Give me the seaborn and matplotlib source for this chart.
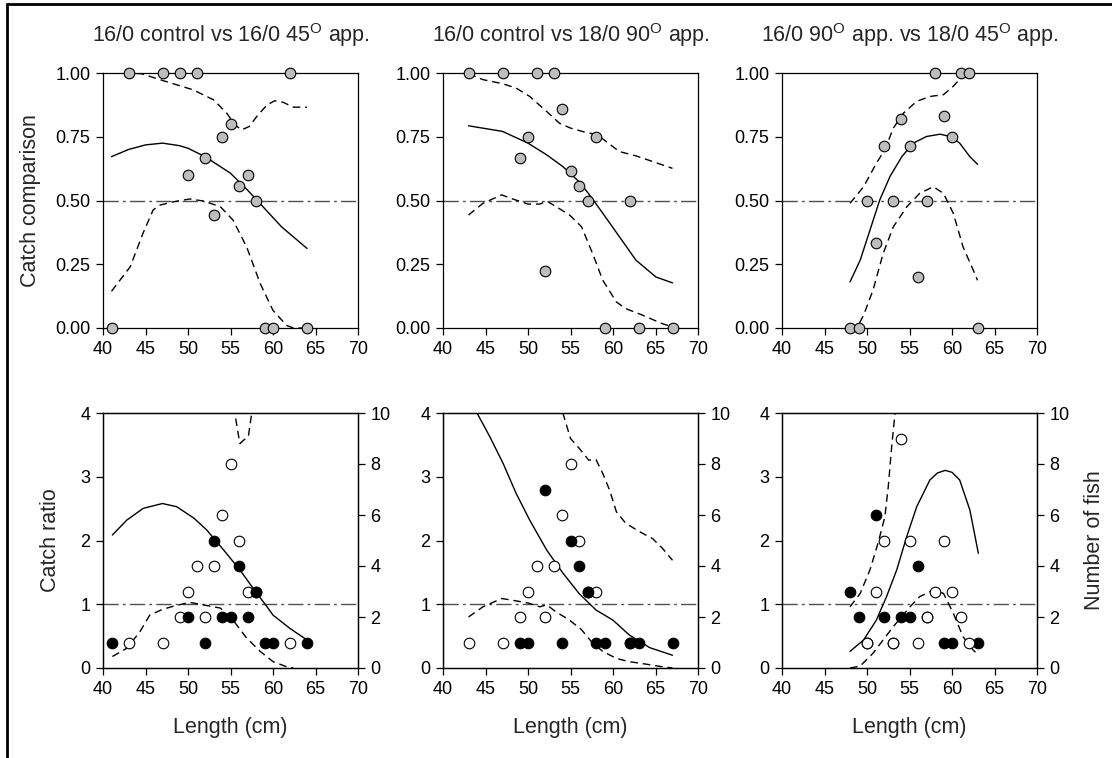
import matplotlib
matplotlib.use("Agg")
import matplotlib.pyplot as plt
import seaborn as sns
from matplotlib.lines import Line2D

sns.set_style("ticks")
plt.rcParams['font.family'] = ['Liberation Sans', 'DejaVu Sans']
plt.rcParams['mathtext.fontset'] = 'custom'
plt.rcParams['mathtext.rm'] = 'Liberation Sans'

# ---------------- data ----------------
titles = ["16/0 control vs 16/0 45$^{\\rm O}$ app.",
          "16/0 control vs 18/0 90$^{\\rm O}$ app.",
          "16/0 90$^{\\rm O}$ app. vs 18/0 45$^{\\rm O}$ app."]
x_ticks = [40, 45, 50, 55, 60, 65, 70]
top_yticks = [0.0, 0.25, 0.5, 0.75, 1.0]
ratio_ticks = [0, 1, 2, 3, 4]
fish_ticks = [0, 2, 4, 6, 8, 10]

# panel 1: 16/0 control vs 16/0 45 app.
p1_len = [41, 43, 47, 49, 50, 51, 52, 53, 54, 55, 56, 57, 58, 59, 60, 62, 64]
p1_prop = [0, 1, 1, 1, 0.6, 1, 0.667, 0.444, 0.75, 0.8, 0.556, 0.6, 0.5, 0, 0, 1, 0]
p1_open_len = [43, 47, 49, 50, 51, 52, 53, 54, 55, 56, 57, 58, 62]
p1_open_n = [1, 1, 2, 3, 4, 2, 4, 6, 8, 5, 3, 3, 1]
p1_fill_len = [41, 50, 52, 53, 54, 55, 56, 57, 58, 59, 60, 64]
p1_fill_n = [1, 2, 1, 5, 2, 2, 4, 2, 3, 1, 1, 1]
p1_fit_x = [41, 43, 45, 47, 49, 50, 52, 55, 57, 59, 61, 64]
p1_fit_y = [0.672, 0.70, 0.718, 0.725, 0.715, 0.705, 0.672, 0.607, 0.541, 0.469, 0.397, 0.312]
p1_up_x = [41, 43, 44.55, 46.7, 50.6, 53.0, 54.55, 55.5, 56.3, 57.2, 58.1, 59.3, 60.2, 61.2, 62.4, 64]
p1_up_y = [1.0, 1.0, 0.997, 0.974, 0.934, 0.895, 0.843, 0.797, 0.777, 0.79, 0.83, 0.875, 0.891, 0.885, 0.866, 0.866]
p1_lo_x = [41, 43.2, 44.7, 45.9, 46.7, 48.3, 50.2, 51.8, 53.8, 55.3, 56.9, 58.5, 60, 61.6, 62.4, 64]
p1_lo_y = [0.144, 0.24, 0.371, 0.463, 0.482, 0.495, 0.506, 0.498, 0.476, 0.423, 0.318, 0.174, 0.069, 0.01, 0, 0]
p1_rfit_x = [41.1, 42.8, 44.74, 47, 48.67, 50.7, 52.2, 54.2, 56.1, 58.1, 59.3, 60, 62, 64]
p1_rfit_y = [2.086, 2.32, 2.505, 2.58, 2.53, 2.35, 2.165, 1.85, 1.54, 1.17, 0.96, 0.83, 0.62, 0.44]
p1_rup_x = [55.2, 55.5, 56.1, 56.6, 57.1, 57.5, 57.8]
p1_rup_y = [4.5, 4.0, 3.52, 3.58, 3.63, 4.0, 4.5]
p1_rlo_x = [41.1, 42.8, 44.35, 45.5, 47, 48.3, 50.2, 51.8, 53.8, 55.3, 56.9, 58.5, 60, 61.6, 62.4]
p1_rlo_y = [0.18, 0.31, 0.57, 0.83, 0.92, 0.97, 1.03, 0.99, 0.94, 0.75, 0.47, 0.26, 0.1, 0.02, 0.0]

# panel 2: 16/0 control vs 18/0 90 app.
p2_len = [43, 47, 49, 50, 51, 52, 53, 54, 55, 56, 57, 58, 59, 62, 63, 67]
p2_prop = [1, 1, 0.667, 0.75, 1, 0.222, 1, 0.857, 0.615, 0.556, 0.5, 0.75, 0, 0.5, 0, 0]
p2_open_len = [43, 47, 49, 50, 51, 52, 53, 54, 55, 56, 57, 58, 62]
p2_open_n = [1, 1, 2, 3, 4, 2, 4, 6, 8, 5, 3, 3, 1]
p2_fill_len = [49, 50, 52, 54, 55, 56, 57, 58, 59, 62, 63, 67]
p2_fill_n = [1, 1, 7, 1, 5, 4, 3, 1, 1, 1, 1, 1]
p2_fit_x = [43, 47, 50, 52.2, 54.1, 56, 57.1, 58.8, 60.75, 62.7, 65.05, 67]
p2_fit_y = [0.793, 0.771, 0.725, 0.679, 0.633, 0.574, 0.528, 0.45, 0.358, 0.266, 0.2, 0.177]
p2_up_x = [43, 44.7, 47, 48.6, 50.2, 52.2, 53.7, 55, 56.8, 58.2, 59.2, 60.75, 62.7, 64.65, 67]
p2_up_y = [0.997, 0.974, 0.958, 0.941, 0.908, 0.849, 0.803, 0.784, 0.767, 0.758, 0.731, 0.692, 0.675, 0.653, 0.626]
p2_lo_x = [43, 44.7, 46.9, 48.2, 50, 51.4, 52.2, 53.3, 54.9, 56.3, 57.6, 58.8, 60.4, 61.5, 63.5, 65.8, 67]
p2_lo_y = [0.443, 0.489, 0.522, 0.506, 0.486, 0.486, 0.498, 0.476, 0.443, 0.397, 0.292, 0.187, 0.102, 0.076, 0.05, 0.017, 0.004]
p2_rfit_x = [43.6, 44.0, 45.5, 47.07, 48.6, 50.2, 52.2, 54.1, 56, 58.0, 60, 61.9, 64.3, 67]
p2_rfit_y = [4.2, 4.0, 3.63, 3.21, 2.74, 2.32, 1.85, 1.49, 1.17, 0.91, 0.75, 0.52, 0.32, 0.2]
p2_rup_x = [53.9, 54.1, 55, 56, 57.15, 58, 58.8, 59.6, 60.4, 61.5, 63.1, 64.65, 65.8, 67]
p2_rup_y = [4.2, 4.0, 3.6, 3.45, 3.26, 3.27, 3.05, 2.79, 2.45, 2.27, 2.14, 2.03, 1.88, 1.69]
p2_rlo_x = [43, 44.7, 46.9, 48.3, 50, 51.4, 52.2, 53.3, 54.9, 56.3, 57.6, 58.8, 60.4, 61.9, 63.9, 65.8, 67]
p2_rlo_y = [0.80, 0.96, 1.09, 1.06, 1.02, 0.96, 0.99, 0.88, 0.75, 0.60, 0.39, 0.26, 0.15, 0.10, 0.06, 0.02, 0.0]

# panel 3: 16/0 90 app. vs 18/0 45 app.
p3_len = [48, 49, 50, 51, 52, 53, 54, 55, 56, 57, 58, 59, 60, 61, 62, 63]
p3_prop = [0, 0, 0.5, 0.333, 0.714, 0.5, 0.818, 0.714, 0.2, 0.5, 1, 0.833, 0.75, 1, 1, 0]
p3_open_len = [50, 51, 52, 53, 54, 55, 56, 57, 58, 59, 60, 61, 62]
p3_open_n = [1, 3, 5, 1, 9, 5, 1, 2, 3, 5, 3, 2, 1]
p3_fill_len = [48, 49, 50, 51, 52, 53, 54, 55, 56, 57, 59, 60, 63]
p3_fill_n = [3, 2, 1, 6, 2, 1, 2, 2, 4, 2, 1, 1, 1]
p3_fit_x = [48, 49.2, 50.35, 51.5, 52.7, 54.1, 55.45, 57, 58.6, 59.8, 60.9, 62.1, 63]
p3_fit_y = [0.181, 0.266, 0.384, 0.502, 0.594, 0.672, 0.725, 0.751, 0.76, 0.751, 0.725, 0.672, 0.642]
p3_up_x = [48, 49.6, 51.1, 52.1, 53.1, 54.3, 55.85, 57.4, 59.0, 60.15, 61.3, 62.1, 63]
p3_up_y = [0.489, 0.554, 0.646, 0.699, 0.784, 0.843, 0.889, 0.908, 0.915, 0.948, 0.99, 1.0, 1.0]
p3_lo_x = [48, 48.8, 49.6, 50.7, 51.9, 53.1, 54.7, 56.2, 57.8, 59.0, 60.15, 61.3, 62.5, 63]
p3_lo_y = [0.0, 0.0, 0.05, 0.148, 0.292, 0.397, 0.476, 0.528, 0.554, 0.528, 0.45, 0.318, 0.227, 0.187]
p3_rfit_x = [48, 49.6, 51.1, 52.3, 53.5, 54.67, 55.85, 57.4, 58.3, 59.2, 60.0, 60.9, 62.1, 63.1]
p3_rfit_y = [0.26, 0.44, 0.75, 1.12, 1.54, 2.06, 2.53, 2.95, 3.06, 3.1, 3.07, 2.95, 2.48, 1.80]
p3_rup_x = [48, 49.2, 50.35, 51.3, 52.1, 52.5, 52.9, 53.3, 53.6]
p3_rup_y = [0.96, 1.17, 1.54, 1.96, 2.37, 2.84, 3.47, 4.0, 4.5]
p3_rlo_x = [48, 49.2, 50.7, 51.9, 53.1, 55.06, 56.2, 57.8, 59.0, 60.15, 61.3, 62.5, 63]
p3_rlo_y = [0.0, 0.03, 0.23, 0.44, 0.65, 0.96, 1.12, 1.22, 1.17, 0.86, 0.49, 0.28, 0.22]

panels = [
    dict(len=p1_len, prop=p1_prop, ol=p1_open_len, on=p1_open_n, fl=p1_fill_len, fn=p1_fill_n,
         fit=(p1_fit_x, p1_fit_y), up=(p1_up_x, p1_up_y), lo=(p1_lo_x, p1_lo_y),
         rfit=(p1_rfit_x, p1_rfit_y), rup=(p1_rup_x, p1_rup_y), rlo=(p1_rlo_x, p1_rlo_y), open_top=False),
    dict(len=p2_len, prop=p2_prop, ol=p2_open_len, on=p2_open_n, fl=p2_fill_len, fn=p2_fill_n,
         fit=(p2_fit_x, p2_fit_y), up=(p2_up_x, p2_up_y), lo=(p2_lo_x, p2_lo_y),
         rfit=(p2_rfit_x, p2_rfit_y), rup=(p2_rup_x, p2_rup_y), rlo=(p2_rlo_x, p2_rlo_y), open_top=False),
    dict(len=p3_len, prop=p3_prop, ol=p3_open_len, on=p3_open_n, fl=p3_fill_len, fn=p3_fill_n,
         fit=(p3_fit_x, p3_fit_y), up=(p3_up_x, p3_up_y), lo=(p3_lo_x, p3_lo_y),
         rfit=(p3_rfit_x, p3_rfit_y), rup=(p3_rup_x, p3_rup_y), rlo=(p3_rlo_x, p3_rlo_y), open_top=True),
]

# ---------------- style ----------------
W, H = 1112, 758
fig = plt.figure(figsize=(W / 100, H / 100), dpi=100)
lefts = [103, 443, 782]
axw = 255
top_row = (73, 328)
bot_row = (413, 668)
TICK_FS = 13
LAB_FS = 15.5
DASH = (0, (5.5, 3.5))
REF = (0, (11, 3, 2, 3))
MS = 58
GREY = '#bdbdbd'


def frac(x0, y0, x1, y1):
    return [x0 / W, 1 - y1 / H, (x1 - x0) / W, (y1 - y0) / H]


def style_ax(ax):
    for s in ax.spines.values():
        s.set_visible(True)
        s.set_linewidth(0.9)
        s.set_color('black')
    ax.tick_params(direction='out', length=5, width=0.9, labelsize=TICK_FS, colors='black', pad=4)


def line(ax, xy, ls):
    sns.lineplot(x=xy[0], y=xy[1], ax=ax, sort=False, estimator=None, color='black',
                 linewidth=1.0, linestyle=ls, zorder=3)


for i, p in enumerate(panels):
    # ---- top: catch comparison ----
    ax = fig.add_axes(frac(lefts[i], top_row[0], lefts[i] + axw, top_row[1]))
    style_ax(ax)
    ax.axhline(0.5, color='#505050', linewidth=1.0, linestyle=REF, zorder=2)
    line(ax, p['fit'], '-')
    line(ax, p['up'], DASH)
    line(ax, p['lo'], DASH)
    sns.scatterplot(x=p['len'], y=p['prop'], ax=ax, color=GREY, edgecolor='black',
                    linewidth=0.8, s=MS, zorder=5, clip_on=False)
    ax.set_xlim(40, 70)
    ax.set_ylim(0, 1)
    ax.set_xticks(x_ticks)
    ax.set_yticks(top_yticks)
    ax.set_yticklabels([f"{v:.2f}" for v in top_yticks])
    ax.set_title(titles[i], fontsize=LAB_FS, pad=22)
    if i == 0:
        ax.set_ylabel("Catch comparison", fontsize=LAB_FS, labelpad=10)

    # ---- bottom: catch ratio + number of fish ----
    axb = fig.add_axes(frac(lefts[i], bot_row[0], lefts[i] + axw, bot_row[1]))
    style_ax(axb)
    axb.axhline(1.0, color='#505050', linewidth=1.0, linestyle=REF, zorder=2)
    line(axb, p['rfit'], '-')
    line(axb, p['rup'], DASH)
    line(axb, p['rlo'], DASH)
    axb.set_xlim(40, 70)
    axb.set_ylim(0, 4)
    axb.set_xticks(x_ticks)
    axb.set_yticks(ratio_ticks)
    axb.set_xlabel("Length (cm)", fontsize=LAB_FS, labelpad=14)
    if i == 0:
        axb.set_ylabel("Catch ratio", fontsize=LAB_FS, labelpad=14)

    axr = axb.twinx()
    axr.set_ylim(0, 10)
    axr.set_yticks(fish_ticks)
    style_ax(axr)
    zo_open, zo_fill = (6, 5) if p['open_top'] else (5, 6)
    sns.scatterplot(x=p['ol'], y=p['on'], ax=axr, color='white', edgecolor='black',
                    linewidth=0.8, s=MS, zorder=zo_open, clip_on=False)
    sns.scatterplot(x=p['fl'], y=p['fn'], ax=axr, color='black', edgecolor='black',
                    linewidth=0.8, s=MS, zorder=zo_fill, clip_on=False)
    axr.set_xlim(40, 70)
    if i == 2:
        axr.set_ylabel("Number of fish", fontsize=LAB_FS, labelpad=10)

# figure frame (top and left edges)
fig.add_artist(Line2D([7 / W, 7 / W], [0, 1 - 4 / H], transform=fig.transFigure, color='black', linewidth=2))
fig.add_artist(Line2D([7 / W, 1], [1 - 4 / H, 1 - 4 / H], transform=fig.transFigure, color='black', linewidth=2))

fig.savefig("out.png", dpi=100)
